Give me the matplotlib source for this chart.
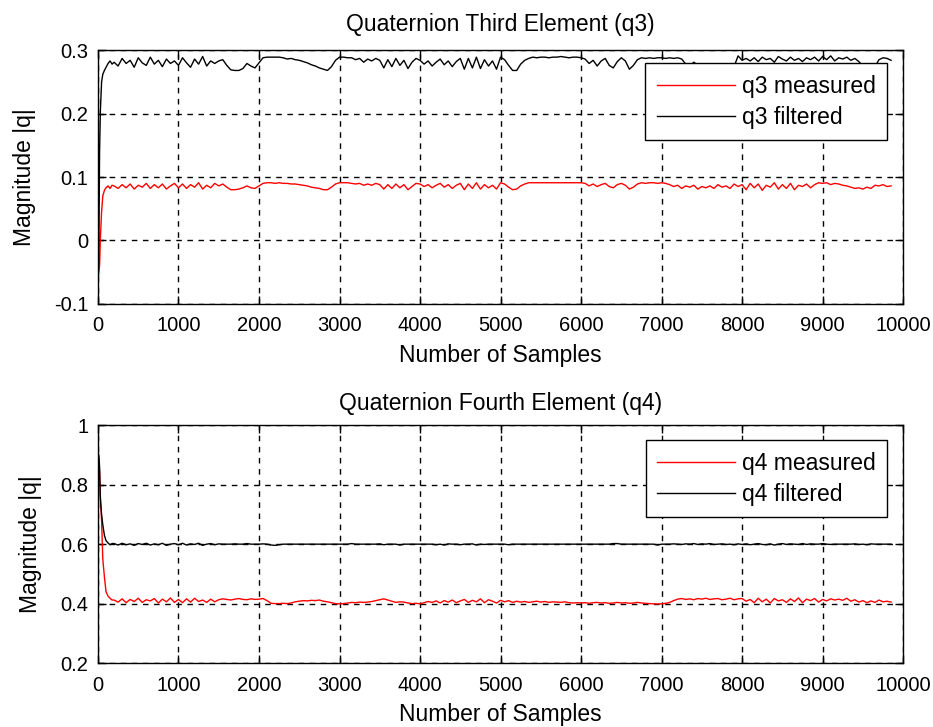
import numpy as np
import matplotlib
matplotlib.use("Agg")
import matplotlib.pyplot as plt

plt.rcParams['font.family'] = ['Liberation Sans', 'DejaVu Sans']

# start-up transient (sample numbers and values)
x_start = [0, 10, 20, 30, 45, 60, 80, 100, 125, 150, 175]
q3_filt_start = [-0.07, -0.03, 0.14, 0.205, 0.25, 0.262, 0.268, 0.273, 0.279, 0.283, 0.278]
q3_meas_start = [-0.065, -0.05, -0.039, 0.004, 0.045, 0.07, 0.079, 0.083, 0.086, 0.082, 0.087]
q4_filt_start = [0.905, 0.9, 0.86, 0.75, 0.7, 0.665, 0.63, 0.612, 0.604, 0.598, 0.602]
q4_meas_start = [0.905, 0.89, 0.84, 0.76, 0.68, 0.55, 0.49, 0.44, 0.425, 0.418, 0.412]

# steady part, one value every 50 samples from 200 to 9850 (values in 1/1000)
x_steady = np.arange(200, 9851, 50)

q3_filt = [
    281, 275, 287, 279, 284, 273, 288, 280, 276, 289, 278, 284, 274, 286, 279, 283,
    276, 288, 280, 273, 286, 278, 290, 275, 283, 279, 283, 285, 276, 269, 268, 268, 271, 279, 275, 272,
    280, 288, 289, 289, 289, 289, 288, 286, 287, 285, 284, 282, 280, 277, 275, 272, 270, 268, 274, 284,
    289, 289, 288, 288, 285, 287, 281, 286, 283, 287, 284, 272, 285, 274, 287, 276, 284, 271, 281, 287,
    284, 278, 283, 275, 281, 286, 277, 283, 274, 282, 287, 270, 287, 272, 289, 271, 285, 275, 283, 270,
    289, 285, 276, 268, 268, 278, 284, 287, 289, 288, 289, 289, 288, 289, 289, 290, 289, 288, 289, 289,
    288, 286, 279, 284, 275, 283, 287, 276, 272, 282, 288, 283, 270, 276, 285, 288, 287, 288, 287, 288,
    288, 287, 288, 287, 288, 286, 278, 275, 281, 276, 274, 278, 273, 276, 277, 275, 273, 277, 274, 291,
    284, 287, 283, 288, 282, 289, 285, 287, 281, 290, 286, 283, 289, 284, 287, 282, 288, 285, 289, 283,
    290, 285, 291, 283, 288, 286, 289, 284, 287, 282, 275, 272, 276, 274, 285, 288, 287, 284,
]
q3_meas = [
    86, 82, 88, 83, 89, 81, 87, 84, 90, 82, 88, 83, 89, 81, 86, 90,
    83, 89, 82, 88, 84, 91, 81, 87, 83, 90, 86, 89, 84, 80, 80, 81, 83, 86, 83, 82,
    86, 90, 91, 91, 90, 91, 90, 90, 89, 89, 88, 87, 86, 84, 83, 82, 80, 80, 84, 89,
    91, 91, 91, 90, 89, 90, 87, 89, 87, 90, 88, 81, 88, 82, 89, 83, 88, 80, 85, 90,
    89, 85, 88, 83, 87, 90, 84, 88, 82, 87, 90, 80, 89, 82, 91, 81, 88, 83, 87, 81,
    91, 89, 84, 80, 81, 86, 89, 91, 91, 91, 91, 91, 91, 91, 91, 91, 91, 91, 91, 91,
    91, 90, 86, 89, 85, 88, 90, 85, 83, 88, 90, 87, 81, 84, 89, 91, 90, 91, 91, 90,
    91, 90, 88, 85, 87, 82, 86, 84, 87, 81, 85, 83, 86, 82, 88, 84, 86, 82, 89, 85,
    88, 80, 90, 83, 89, 79, 87, 84, 91, 81, 88, 82, 90, 80, 87, 85, 89, 83, 88, 91,
    90, 91, 88, 90, 89, 87, 86, 84, 82, 83, 81, 84, 82, 87, 86, 88, 85, 86,
]
q4_filt = [
    602, 597, 603, 598, 601, 596, 602, 599, 603, 597, 601, 598, 603, 596, 600, 602,
    598, 603, 597, 601, 599, 603, 596, 600, 602, 598, 601, 600, 600, 600, 601, 600, 600, 602, 600, 600,
    600, 601, 600, 597, 596, 598, 600, 600, 600, 600, 600, 600, 600, 600, 600, 600, 600, 600, 600, 600,
    600, 600, 600, 602, 600, 600, 600, 600, 600, 600, 601, 598, 600, 600, 600, 597, 600, 600, 600, 600,
    600, 600, 600, 600, 598, 600, 597, 601, 600, 600, 598, 600, 600, 601, 597, 600, 599, 600, 600, 600,
    600, 600, 598, 600, 600, 600, 600, 600, 600, 600, 600, 600, 600, 600, 600, 600, 600, 600, 600, 600,
    600, 600, 600, 600, 600, 600, 600, 600, 602, 602, 600, 600, 600, 600, 600, 600, 600, 600, 600, 597,
    600, 600, 600, 601, 600, 599, 601, 600, 602, 599, 601, 600, 602, 599, 600, 601, 599, 600, 598, 601,
    599, 601, 598, 600, 602, 599, 598, 601, 597, 600, 602, 599, 601, 600, 599, 602, 599, 601, 600, 600,
    602, 600, 599, 600, 600, 600, 600, 600, 601, 599, 600, 598, 601, 600, 600, 600, 600, 600,
]
q4_meas = [
    412, 405, 416, 403, 414, 407, 418, 404, 413, 409, 417, 402, 415, 406, 419, 404,
    414, 403, 416, 405, 418, 407, 412, 404, 415, 406, 413, 416, 414, 412, 415, 417, 414, 413, 416, 414,
    415, 417, 410, 401, 400, 400, 401, 400, 402, 406, 408, 410, 409, 411, 410, 412, 408, 406, 403, 400,
    399, 400, 402, 404, 403, 405, 404, 405, 407, 410, 413, 416, 412, 408, 404, 406, 405, 402, 400, 401,
    399, 403, 407, 404, 409, 402, 410, 405, 412, 403, 409, 414, 404, 411, 406, 416, 403, 413, 408, 402,
    411, 406, 410, 404, 408, 405, 407, 404, 406, 408, 405, 407, 404, 406, 405, 404, 406, 403, 402, 403,
    402, 403, 401, 403, 404, 402, 403, 401, 402, 404, 402, 403, 401, 402, 404, 402, 401, 400, 399, 399,
    399, 401, 404, 410, 415, 417, 414, 416, 413, 417, 415, 418, 414, 416, 417, 413, 415, 418, 413, 416,
    417, 408, 414, 403, 418, 406, 415, 402, 417, 409, 413, 404, 416, 407, 419, 403, 415, 410, 417, 405,
    414, 409, 416, 412, 415, 411, 418, 408, 413, 405, 410, 403, 409, 404, 412, 406, 408, 405,
]

x_ticks = np.arange(0, 10001, 1000)


def series(start, steady):
    x = np.concatenate([x_start, x_steady])
    y = np.concatenate([start, np.array(steady) / 1000.0])
    return x, y


def style(ax, ylim, yticks, ylabels, title, title_pad):
    ax.set_xlim(0, 10000)
    ax.set_ylim(*ylim)
    ax.set_xticks(x_ticks)
    ax.set_yticks(yticks)
    ax.set_yticklabels(ylabels)
    ax.tick_params(direction='in', top=True, right=True, length=6, width=1,
                   labelsize=14.5)
    ax.tick_params(axis='x', pad=9)
    ax.tick_params(axis='y', pad=7)
    ax.grid(True, color='black', linestyle=(0, (4, 4)), linewidth=1)
    for s in ax.spines.values():
        s.set_linewidth(1)
    ax.set_xlabel('Number of Samples', fontsize=16.5, labelpad=6)
    ax.set_ylabel('Magnitude |q|', fontsize=16.5, labelpad=13)
    ax.set_title(title, fontsize=16.5, pad=title_pad)


fig = plt.figure(figsize=(9.33, 7.27), dpi=100)
ax1 = fig.add_axes([0.105, 0.582, 0.863, 0.349])
ax2 = fig.add_axes([0.105, 0.088, 0.863, 0.327])

x, y = series(q3_meas_start, q3_meas)
ax1.plot(x, y, color='red', lw=1, label='q3 measured')
x, y = series(q3_filt_start, q3_filt)
ax1.plot(x, y, color='black', lw=1, label='q3 filtered')
style(ax1, (-0.1, 0.3), [-0.1, 0, 0.1, 0.2, 0.3], ['-0.1', '0', '0.1', '0.2', '0.3'],
      'Quaternion Third Element (q3)', 14)

x, y = series(q4_meas_start, q4_meas)
ax2.plot(x, y, color='red', lw=1, label='q4 measured')
x, y = series(q4_filt_start, q4_filt)
ax2.plot(x, y, color='black', lw=1, label='q4 filtered')
style(ax2, (0.2, 1.0), [0.2, 0.4, 0.6, 0.8, 1.0], ['0.2', '0.4', '0.6', '0.8', '1'],
      'Quaternion Fourth Element (q4)', 11)

for ax, top in ((ax1, 0.949), (ax2, 0.937)):
    leg = ax.legend(loc='upper right', bbox_to_anchor=(0.98, top), borderaxespad=0,
                    fontsize=16.5, fancybox=False, framealpha=1, edgecolor='black',
                    handlelength=3.4, handletextpad=0.3, borderpad=0.5,
                    labelspacing=0.35)
    leg.get_frame().set_linewidth(1)

fig.savefig('out.png', dpi=100)
